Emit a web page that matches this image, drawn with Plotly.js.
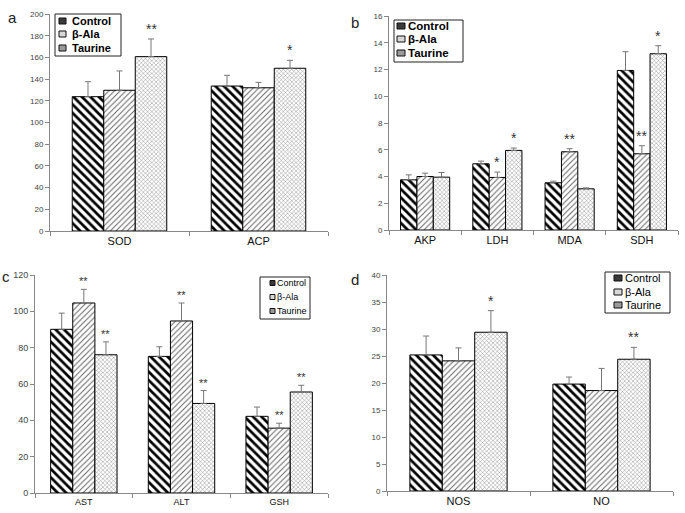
<!DOCTYPE html>
<html>
<head>
<meta charset="utf-8">
<script src="https://cdn.plot.ly/plotly-3.0.1.min.js"></script>
<style>html,body{margin:0;padding:0;background:#fff;}#chart{width:685px;height:513px;}</style>
</head>
<body>
<div id="chart"></div>
<script>
// ---- Data ----
const seriesNames = ['Control', 'β-Ala', 'Taurine'];

// Panel a
const catsA = ['SOD', 'ACP'];
const controlA = [123.8, 133.6];
const controlErrA = [13.8, 9.9];
const betaA = [129.7, 132.0];
const betaErrA = [17.8, 5.0];
const taurineA = [160.7, 150.0];
const taurineErrA = [16.3, 7.3];
const starsControlA = ['', ''];
const starsBetaA = ['', ''];
const starsTaurineA = ['**', '*'];

// Panel b
const catsB = ['AKP', 'LDH', 'MDA', 'SDH'];
const controlB = [3.75, 4.95, 3.53, 11.93];
const controlErrB = [0.37, 0.2, 0.12, 1.4];
const betaB = [4.0, 3.93, 5.85, 5.7];
const betaErrB = [0.25, 0.4, 0.23, 0.6];
const taurineB = [3.95, 5.95, 3.08, 13.18];
const taurineErrB = [0.35, 0.18, 0.07, 0.6];
const starsControlB = ['', '', '', ''];
const starsBetaB = ['', '*', '**', '**'];
const starsTaurineB = ['', '*', '', '*'];

// Panel c
const catsC = ['AST', 'ALT', 'GSH'];
const controlC = [90.1, 75.2, 42.2];
const controlErrC = [8.9, 5.3, 5.1];
const betaC = [104.6, 94.7, 35.7];
const betaErrC = [7.5, 9.9, 2.7];
const taurineC = [76.1, 49.3, 55.6];
const taurineErrC = [7.1, 7.1, 3.7];
const starsControlC = ['', '', ''];
const starsBetaC = ['**', '**', '**'];
const starsTaurineC = ['**', '**', '**'];

// Panel d
const catsD = ['NOS', 'NO'];
const controlD = [25.2, 19.8];
const controlErrD = [3.5, 1.3];
const betaD = [24.1, 18.6];
const betaErrD = [2.4, 4.1];
const taurineD = [29.4, 24.4];
const taurineErrD = [4.0, 2.2];
const starsControlD = ['', ''];
const starsBetaD = ['', ''];
const starsTaurineD = ['*', '**'];

// ---- Styles ----
const FONT = 'Liberation Sans, Arial, sans-serif';
const patterns = [
  {shape: '\\', fgcolor: '#000', bgcolor: '#fff', size: 6, solidity: 0.45},
  {shape: '/', fgcolor: '#666', bgcolor: '#fff', size: 4, solidity: 0.25},
  {shape: 'x', fgcolor: '#777', bgcolor: '#fff', size: 3, solidity: 0.25}
];
const symbolFills = ['#3a3a3a', '#d8d8d8', '#9a9a9a'];
const BARGAP = 0.32;

const panels = [
  {cats: catsA, vals: [controlA, betaA, taurineA], errs: [controlErrA, betaErrA, taurineErrA],
   stars: [starsControlA, starsBetaA, starsTaurineA], xa: 'x', ya: 'y', starSize: 14,
   leg: {x0: 55, x1: 121, y0: 14, y1: 56, sx0: 59, sx1: 66, sh: 6, tx: 70, rows: [21, 34, 48], fs: 11, bold: true}},
  {cats: catsB, vals: [controlB, betaB, taurineB], errs: [controlErrB, betaErrB, taurineErrB],
   stars: [starsControlB, starsBetaB, starsTaurineB], xa: 'x2', ya: 'y2', starSize: 14,
   leg: {x0: 394, x1: 463, y0: 20, y1: 62, sx0: 397, sx1: 405, sh: 6, tx: 406, rows: [26, 39, 53], fs: 11.5, bold: true}},
  {cats: catsC, vals: [controlC, betaC, taurineC], errs: [controlErrC, betaErrC, taurineErrC],
   stars: [starsControlC, starsBetaC, starsTaurineC], xa: 'x3', ya: 'y3', starSize: 11,
   leg: {x0: 260, x1: 310, y0: 277, y1: 319, sx0: 270, sx1: 275, sh: 5, tx: 275, rows: [283, 297, 311], fs: 9, bold: false}},
  {cats: catsD, vals: [controlD, betaD, taurineD], errs: [controlErrD, betaErrD, taurineErrD],
   stars: [starsControlD, starsBetaD, starsTaurineD], xa: 'x4', ya: 'y4', starSize: 14,
   leg: {x0: 605, x1: 670, y0: 272, y1: 313, sx0: 614, sx1: 622, sh: 6, tx: 623, rows: [278, 292, 305], fs: 11, bold: false}}
];

const px = v => v / 685;
const py = v => 1 - v / 513;

const traces = [];
const annotations = [];
const shapes = [];
const w = (1 - BARGAP) / 3;
panels.forEach((p) => {
  for (let j = 0; j < 3; j++) {
    traces.push({
      type: 'bar', x: p.cats, y: p.vals[j], name: seriesNames[j],
      xaxis: p.xa, yaxis: p.ya, showlegend: false,
      marker: {color: '#fff', line: {color: '#000', width: 1}, pattern: patterns[j]},
      error_y: {type: 'data', array: p.errs[j], arrayminus: p.errs[j].map(() => 0), symmetric: false,
                color: '#777', thickness: 1, width: 3},
      hoverinfo: 'x+y'
    });
    p.cats.forEach((c, i) => {
      const s = p.stars[j][i];
      if (s) {
        annotations.push({
          xref: p.xa, yref: p.ya, x: i + (j - 1) * w, y: p.vals[j][i] + p.errs[j][i],
          text: s, showarrow: false, yanchor: 'bottom', yshift: 0,
          font: {family: FONT, size: p.starSize, color: '#333'}
        });
      }
    });
  }
  // custom legend box
  const L = p.leg;
  shapes.push({type: 'rect', xref: 'paper', yref: 'paper', x0: px(L.x0), x1: px(L.x1), y0: py(L.y1), y1: py(L.y0),
               line: {color: '#222', width: 1}, fillcolor: '#fff', layer: 'above'});
  seriesNames.forEach((n, j) => {
    const cy = L.rows[j];
    shapes.push({type: 'rect', xref: 'paper', yref: 'paper', x0: px(L.sx0), x1: px(L.sx1),
                 y0: py(cy + L.sh / 2), y1: py(cy - L.sh / 2),
                 line: {color: '#111', width: 1}, fillcolor: symbolFills[j], layer: 'above'});
    annotations.push({xref: 'paper', yref: 'paper', x: px(L.tx), y: py(cy), text: L.bold ? '<b>' + n + '</b>' : n,
                      showarrow: false, xanchor: 'left', yanchor: 'middle',
                      font: {family: FONT, size: L.fs, color: '#000'}});
  });
});

const panelLabels = [
  {text: 'a', x: 12, y: 17}, {text: 'b', x: 355, y: 22},
  {text: 'c', x: 6, y: 276}, {text: 'd', x: 355, y: 279}
];
panelLabels.forEach(l => annotations.push({
  xref: 'paper', yref: 'paper', x: px(l.x), y: py(l.y), text: l.text, showarrow: false,
  xanchor: 'center', yanchor: 'middle',
  font: {family: FONT, size: 15, color: '#222'}
}));

function xAxis(domain, anchor, fsize) {
  return {domain: domain, anchor: anchor, type: 'category', showline: true, linecolor: '#888', linewidth: 1,
          ticks: 'outside', tickson: 'boundaries', ticklen: 4, tickcolor: '#888', showgrid: false,
          zeroline: false, tickfont: {family: FONT, size: fsize, color: '#111'}};
}
function yAxis(domain, anchor, range, dtick, fsize) {
  return {domain: domain, anchor: anchor, range: range, dtick: dtick, showline: true, linecolor: '#888', linewidth: 1,
          ticks: 'outside', ticklen: 4, tickcolor: '#888', showgrid: false, zeroline: false,
          tickfont: {family: FONT, size: fsize, color: '#444'}};
}

const layout = {
  width: 685, height: 513,
  margin: {l: 0, r: 0, t: 0, b: 0},
  paper_bgcolor: '#fff', plot_bgcolor: '#fff',
  barmode: 'group', bargap: BARGAP, bargroupgap: 0,
  showlegend: false,
  xaxis: xAxis([px(50), px(328)], 'y', 11),
  yaxis: yAxis([py(231), py(14)], 'x', [0, 200], 20, 8),
  xaxis2: xAxis([px(389), px(678)], 'y2', 11),
  yaxis2: yAxis([py(230), py(16)], 'x2', [0, 16], 2, 8),
  xaxis3: xAxis([px(35), px(328)], 'y3', 9),
  yaxis3: yAxis([py(493), py(275)], 'x3', [0, 120], 20, 9),
  xaxis4: xAxis([px(387), px(673)], 'y4', 11),
  yaxis4: yAxis([py(491), py(275)], 'x4', [0, 40], 5, 8),
  shapes: shapes,
  annotations: annotations
};

Plotly.newPlot('chart', traces, layout, {displayModeBar: false, staticPlot: true});
</script>
</body>
</html>
